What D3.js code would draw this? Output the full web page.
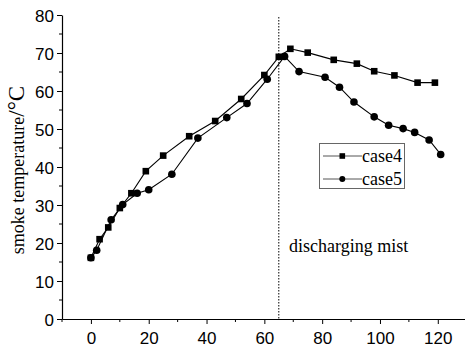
<!DOCTYPE html>
<html>
<head>
<meta charset="utf-8">
<script src="https://cdn.jsdelivr.net/npm/d3@7"></script>
<style>
html,body{margin:0;padding:0;background:#fff;}
svg{display:block;}
</style>
</head>
<body>
<svg id="chart" width="465" height="349"></svg>
<script>
// Data
const case4X = [0, 3, 6, 10, 14, 19, 25, 34, 43, 52, 60, 65, 69, 75, 84, 92, 98, 105, 113, 119];
const case4Y = [16.1, 21, 24.1, 29.2, 33.1, 38.9, 43, 48.1, 52.1, 57.9, 64.2, 69, 71.1, 70.1, 68.2, 67.2, 65.2, 64.1, 62.2, 62.2];
const case5X = [0, 2, 7, 11, 16, 20, 28, 37, 47, 54, 61, 67, 72, 81, 86, 91, 98, 103, 108, 112, 117, 121];
const case5Y = [16.1, 18.1, 26.1, 30.1, 33.1, 34, 38.1, 47.6, 53, 56.7, 63.1, 69.1, 65.1, 63.6, 61, 57.1, 53.2, 51, 50.1, 49.1, 47.1, 43.3];
const xTicks = [0, 20, 40, 60, 80, 100, 120];
const yTicks = [0, 10, 20, 30, 40, 50, 60, 70, 80];
const seriesNames = ["case4", "case5"];
const mistX = 65;
const annotation = "discharging mist";
const yLabelMain = "smoke temperature";
const yLabelUnit = "/\u00B0C";

const svg = d3.select("#chart");
const x = d3.scaleLinear().domain([-10, 130]).range([62, 466.7]);
const y = d3.scaleLinear().domain([0, 80]).range([319, 15]);

// axes
const xAxis = svg.append("g").attr("transform", "translate(0,319)")
  .call(d3.axisBottom(x).tickValues(xTicks).tickSize(5).tickSizeOuter(0).tickFormat(d3.format("d")));
const yAxis = svg.append("g").attr("transform", "translate(62,0)")
  .call(d3.axisLeft(y).tickValues(yTicks).tickSize(5).tickSizeOuter(0).tickFormat(d3.format("d")));
[xAxis, yAxis].forEach(g => {
  g.select(".domain").attr("stroke", "#000").attr("stroke-width", 1.2);
  g.selectAll(".tick line").attr("stroke", "#000").attr("stroke-width", 1);
  g.selectAll("text").attr("font-family", "Liberation Sans, Arial, sans-serif").attr("font-size", 17).attr("fill", "#000");
});
xAxis.selectAll("text").attr("dy", null).attr("y", 25);
yAxis.selectAll("text").attr("x", -8).attr("dy", "0.36em");

// minor ticks
const xMinor = d3.range(-10, 131, 20);
svg.append("g").selectAll("line").data(xMinor).join("line")
  .attr("x1", d => x(d)).attr("x2", d => x(d)).attr("y1", 319).attr("y2", 322).attr("stroke", "#000");
const yMinor = d3.range(5, 80, 10);
svg.append("g").selectAll("line").data(yMinor).join("line")
  .attr("x1", 62).attr("x2", 59).attr("y1", d => y(d)).attr("y2", d => y(d)).attr("stroke", "#000");

// dotted vertical line
svg.append("line").attr("x1", x(mistX)).attr("x2", x(mistX)).attr("y1", 17).attr("y2", 319)
  .attr("stroke", "#000").attr("stroke-width", 1).attr("stroke-dasharray", "1.5,1.5");

// lines
const line = d3.line().x(d => x(d[0])).y(d => y(d[1]));
const d4 = case4X.map((v, i) => [v, case4Y[i]]);
const d5 = case5X.map((v, i) => [v, case5Y[i]]);
svg.append("path").datum(d4).attr("d", line).attr("fill", "none").attr("stroke", "#000").attr("stroke-width", 1.1);
svg.append("path").datum(d5).attr("d", line).attr("fill", "none").attr("stroke", "#000").attr("stroke-width", 1.1);
svg.append("g").selectAll("rect").data(d4).join("rect")
  .attr("x", d => x(d[0]) - 3.3).attr("y", d => y(d[1]) - 3.3).attr("width", 6.6).attr("height", 6.6).attr("fill", "#000");
svg.append("g").selectAll("circle").data(d5).join("circle")
  .attr("cx", d => x(d[0])).attr("cy", d => y(d[1])).attr("r", 3.8).attr("fill", "#000");

// y label
const yl = svg.append("text").attr("transform", "translate(24,170) rotate(-90)")
  .attr("text-anchor", "middle").attr("font-family", "Liberation Serif, Times New Roman, serif").attr("fill", "#000");
yl.append("tspan").attr("font-size", 18).text(yLabelMain);
yl.append("tspan").attr("font-size", 23).text(yLabelUnit);

// annotation
svg.append("text").attr("x", 289).attr("y", 252).attr("font-family", "Liberation Serif, Times New Roman, serif")
  .attr("font-size", 18).attr("fill", "#000").text(annotation);

// legend
const lg = svg.append("g");
lg.append("rect").attr("x", 319.5).attr("y", 143.5).attr("width", 85).attr("height", 45)
  .attr("fill", "#fff").attr("stroke", "#666").attr("stroke-width", 1);
seriesNames.forEach((name, i) => {
  const cy = 156 + i * 23;
  lg.append("line").attr("x1", 323).attr("x2", 362).attr("y1", cy).attr("y2", cy).attr("stroke", "#555").attr("stroke-width", 1);
  if (i === 0) lg.append("rect").attr("x", 339.5).attr("y", cy - 2.8).attr("width", 5.6).attr("height", 5.6).attr("fill", "#000");
  else lg.append("circle").attr("cx", 342.3).attr("cy", cy).attr("r", 3).attr("fill", "#000");
  lg.append("text").attr("x", 362).attr("y", cy + 6).attr("font-family", "Liberation Serif, Times New Roman, serif")
    .attr("font-size", 18).attr("fill", "#000").text(name);
});
</script>
</body>
</html>
